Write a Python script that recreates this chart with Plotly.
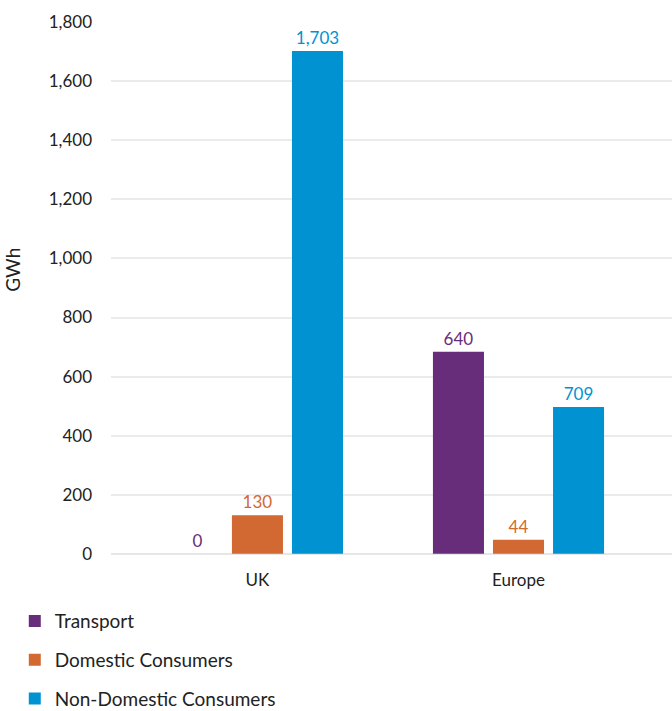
import plotly.graph_objects as go

categories = ["UK", "Europe"]
series_names = ["Transport", "Domestic Consumers", "Non-Domestic Consumers"]
transport = [0, 684]
domestic = [130, 47]
non_domestic = [1703, 497]
transport_labels = ["0", "640"]
domestic_labels = ["130", "44"]
non_domestic_labels = ["1,703", "709"]
y_ticks = [0, 200, 400, 600, 800, 1000, 1200, 1400, 1600, 1800]
y_tick_labels = ["0", "200", "400", "600", "800", "1,000", "1,200", "1,400", "1,600", "1,800"]

colors = ["#672D7A", "#D26933", "#0092D1"]
FONT = "Lato, 'Open Sans', sans-serif"

fig = go.Figure()
for i, (name, vals, labels) in enumerate(zip(series_names,
                                             [transport, domestic, non_domestic],
                                             [transport_labels, domestic_labels, non_domestic_labels])):
    fig.add_trace(go.Bar(
        x=categories, y=vals, name=name,
        marker=dict(color=colors[i], line=dict(width=0)),
        text=labels,
        textposition="outside", cliponaxis=False,
        textfont=dict(color=colors[i], size=17, family=FONT),
        legendgroup=name,
    ))

fig.update_layout(
    width=672, height=711,
    margin=dict(l=111, r=0, t=22, b=157, autoexpand=False),
    paper_bgcolor="white", plot_bgcolor="white",
    barmode="group", bargap=0.31, bargroupgap=0.15,
    font=dict(family=FONT, color="#222222", size=17),
    showlegend=True,
    legend=dict(orientation="v", xref="container", yref="container",
                x=0.022, xanchor="left", y=0.153, yanchor="top",
                font=dict(size=19, color="#222222", family=FONT),
                tracegroupgap=11, itemwidth=30),
    xaxis=dict(range=[-0.561, 1.588], showgrid=False, showline=False, zeroline=False,
               ticks="", ticklabelstandoff=14, tickfont=dict(size=17), automargin=False),
    yaxis=dict(range=[-1, 1801], tickvals=y_ticks, ticktext=y_tick_labels,
               showgrid=True, gridcolor="#EBEBEB", gridwidth=1.5,
               zeroline=True, zerolinecolor="#E6E6E6", zerolinewidth=1.5,
               showline=False, ticks="", ticklabelstandoff=18, tickfont=dict(size=17),
               automargin=False),
    annotations=[dict(text="GWh", xref="paper", yref="paper", x=-0.175, y=0.534,
                      xanchor="center", yanchor="middle", textangle=-90, showarrow=False,
                      font=dict(size=19, color="#222222", family=FONT))],
)

fig.write_html("out.html", config={"displayModeBar": False},
               post_script="document.body.style.margin='0';document.body.style.overflow='hidden';")
